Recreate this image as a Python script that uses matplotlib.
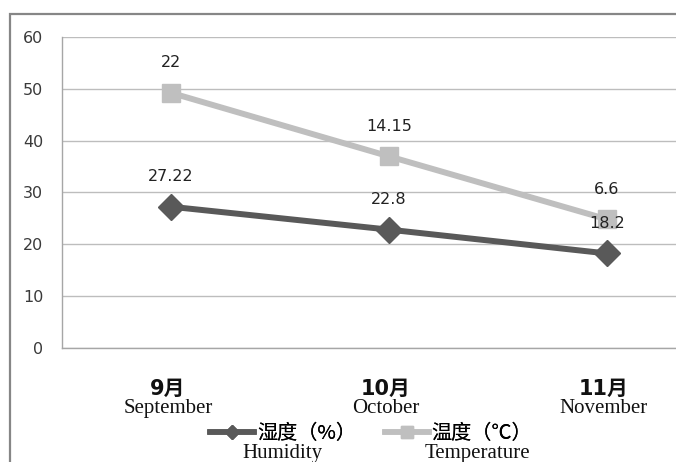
import matplotlib
matplotlib.use("Agg")
import matplotlib.pyplot as plt
from matplotlib.patches import Rectangle
from matplotlib.lines import Line2D
import numpy as np

months_cn = ["9月", "10月", "11月"]
months_en = ["September", "October", "November"]
humidity = [27.22, 22.8, 18.2]
temperature = [22, 14.15, 6.6]
legend_cn = ["湿度（%）", "温度（℃）"]
legend_en = ["Humidity", "Temperature"]

# stacked line chart: temperature sits on top of humidity
temp_stacked = [h + t for h, t in zip(humidity, temperature)]

DARK = "#595959"
LIGHT = "#bfbfbf"
NUM_FONT = "DejaVu Sans"
SERIF = "Liberation Serif"
CJK = ["Noto Sans CJK SC", "DejaVu Sans"]

fig = plt.figure(figsize=(6.76, 4.62), dpi=100)
W, H = 676, 462

# outer chart frame (runs off the right and bottom edges)
fig.add_artist(Rectangle((9.5 / W, -0.2), 1.2, 1.2 - 13.5 / H,
                         transform=fig.transFigure, fill=False,
                         edgecolor="#868686", linewidth=1.6))

left, right = 62, 716
top, bottom = 37, 347.7
ax = fig.add_axes([left / W, 1 - bottom / H, (right - left) / W, (bottom - top) / H])

x = np.arange(len(months_cn))
ax.set_xlim(-0.5, len(months_cn) - 0.5)
ax.set_ylim(0, 60)
ax.set_yticks(range(0, 61, 10))
ax.yaxis.grid(True, color="#bdbdbd", linewidth=1)
ax.set_axisbelow(True)
ax.set_xticks([])
ax.tick_params(axis="y", length=0, pad=13.5, labelsize=11.5, labelcolor="#3a3a3a")
for lab in ax.get_yticklabels():
    lab.set_fontfamily(NUM_FONT)
for side in ["top", "right"]:
    ax.spines[side].set_visible(False)
for side in ["left", "bottom"]:
    ax.spines[side].set_color("#a6a6a6")
    ax.spines[side].set_linewidth(1)

ax.plot(x, temp_stacked, color=LIGHT, linewidth=4.3, marker="s",
        markersize=13, markeredgecolor=LIGHT, zorder=3)
ax.plot(x, humidity, color=DARK, linewidth=4.3, marker="D",
        markersize=13, markeredgecolor=DARK, zorder=4)

for xi, yv, lab in zip(x, humidity, humidity):
    ax.annotate(f"{lab:g}", (xi, yv), xytext=(0, 30), textcoords="offset pixels",
                ha="center", va="center", fontsize=11.5, family=NUM_FONT, color="#222222")
for xi, yv, lab in zip(x, temp_stacked, temperature):
    ax.annotate(f"{lab:g}", (xi, yv), xytext=(0, 30), textcoords="offset pixels",
                ha="center", va="center", fontsize=11.5, family=NUM_FONT, color="#222222")

# two-line month labels under the axis
for xi, cn, en in zip(x, months_cn, months_en):
    ax.annotate(cn, (xi, 0), xytext=(-3, -47.5), textcoords="offset pixels",
                ha="center", va="baseline", fontsize=15, fontweight="bold",
                family=["DejaVu Sans", "Noto Sans CJK SC"], color="#111111")
    ax.annotate(en, (xi, 0), xytext=(-3, -65.5), textcoords="offset pixels",
                ha="center", va="baseline", fontsize=15,
                family=SERIF, color="#111111")

# legend: one small legend per series so each can sit where it belongs
legend_handles = [
    Line2D([], [], color=DARK, linewidth=4, marker="D", markersize=7),
    Line2D([], [], color=LIGHT, linewidth=4, marker="s", markersize=9),
]
legend_x = [210, 385]
legend_en_x = [282, 477]
for hnd, cn, en, lx, ex in zip(legend_handles, legend_cn, legend_en, legend_x, legend_en_x):
    leg = fig.legend([hnd], [cn], loc="center left",
                     bbox_to_anchor=(lx / W, 1 - 434 / H), frameon=False,
                     handlelength=2.2, handletextpad=0.12,
                     borderpad=0, borderaxespad=0,
                     prop={"family": CJK, "size": 14.5})
    fig.add_artist(leg)
    fig.text(ex / W, 1 - 458 / H, en, ha="center", va="baseline",
             fontsize=15, family=SERIF, color="#111111")

fig.savefig("out.png", dpi=100)
